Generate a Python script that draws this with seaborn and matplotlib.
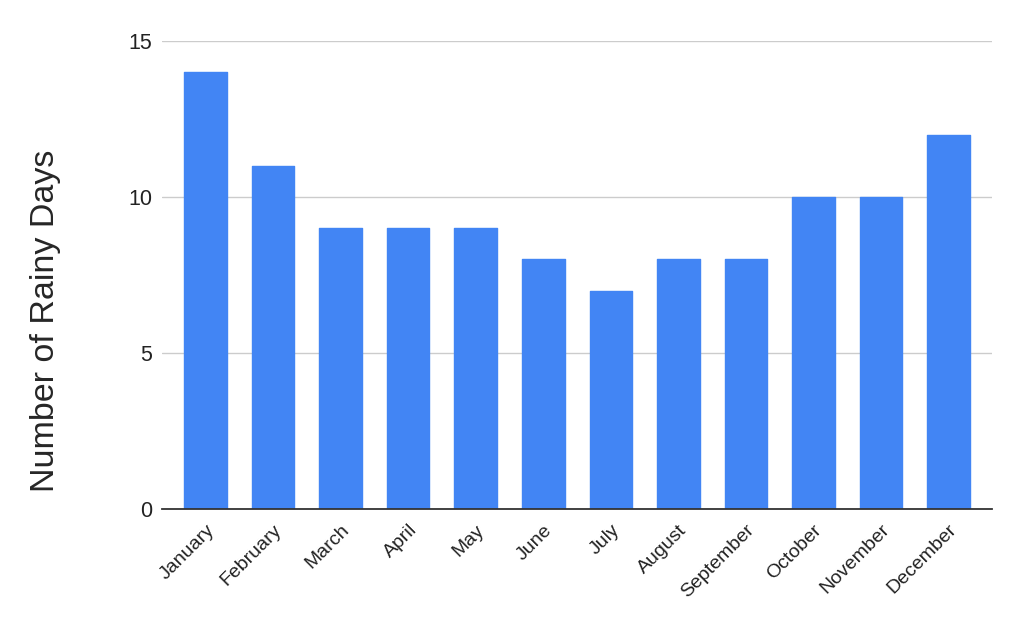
import seaborn as sns
import matplotlib.pyplot as plt
import pandas as pd

# monthly rainy days
months = ['January', 'February', 'March', 'April', 'May', 'June',
          'July', 'August', 'September', 'October', 'November', 'December']
rainy_days = [14, 11, 9, 9, 9, 8, 7, 8, 8, 10, 10, 12]

df = pd.DataFrame({'month': months, 'days': rainy_days})

sns.set_style('white')
plt.rcParams['font.family'] = ['Liberation Sans', 'DejaVu Sans']

fig = plt.figure(figsize=(10.24, 6.33), dpi=100)
ax = fig.add_axes([0.158, 0.196, 0.811, 0.739])

bar_color = '#4285F4'
sns.barplot(data=df, x='month', y='days', color=bar_color, saturation=1,
            width=0.63, ax=ax)
# slightly rounded corners
for p in ax.patches:
    p.set_edgecolor(bar_color)
    p.set_linewidth(1.0)
    p.set_joinstyle('round')

ax.set_xlim(-0.65, 11.65)
ax.set_ylim(0, 15)
ax.set_yticks([0, 5, 10, 15])
ax.yaxis.grid(True, color='#cccccc', linewidth=1)
ax.set_axisbelow(True)
for s in ['top', 'right', 'left']:
    ax.spines[s].set_visible(False)
ax.spines['bottom'].set_color('#333333')
ax.spines['bottom'].set_linewidth(1.3)
ax.spines['bottom'].set_zorder(5)

ax.tick_params(axis='y', length=0, pad=7, labelsize=15.5, labelcolor='#222222')
ax.tick_params(axis='x', length=0, pad=9, labelsize=14, labelcolor='#222222')
plt.setp(ax.get_xticklabels(), rotation=45, ha='right', rotation_mode='anchor')

ax.set_xlabel('')
ax.set_ylabel('Number of Rainy Days', fontsize=24.5)
ax.yaxis.set_label_coords(-0.121, 0.402)

fig.savefig('out.png', dpi=100)
